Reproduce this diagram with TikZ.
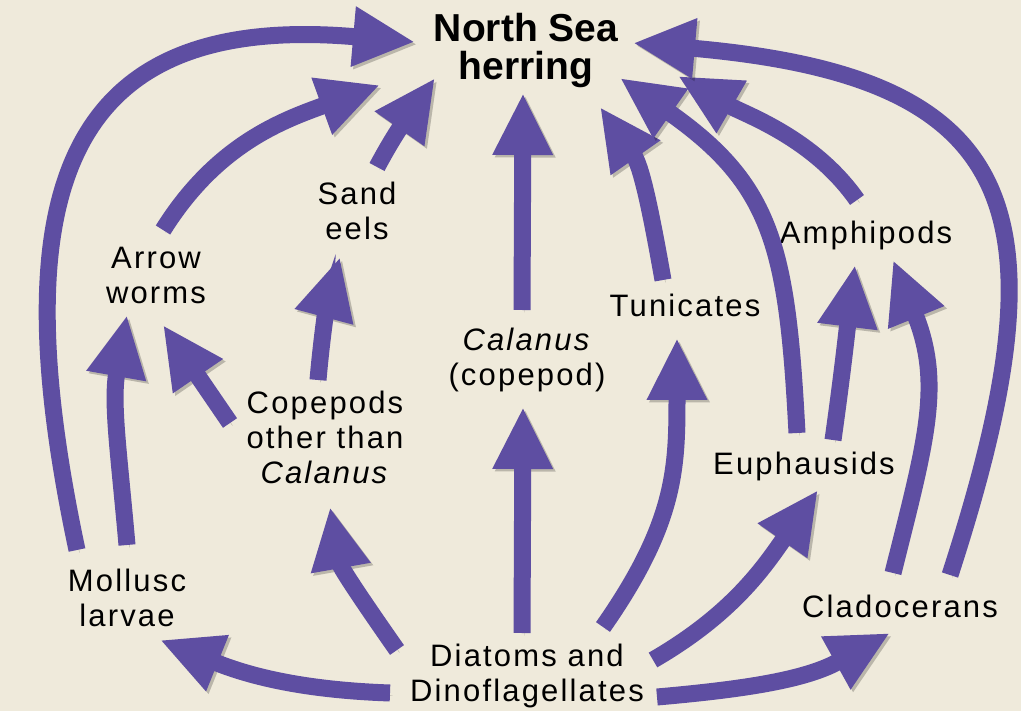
\documentclass[tikz,border=0pt]{standalone}
\usepackage{fontspec}
\setmainfont{Liberation Sans}
\newfontfamily\labelfont{Liberation Sans}[LetterSpace=7]
\usepackage{tikz}
\usetikzlibrary{arrows.meta}
\definecolor{seapurple}{RGB}{94,78,162}
\definecolor{papercream}{RGB}{239,234,219}

\begin{document}
\begin{tikzpicture}[
 x=1pt,y=1pt,
 every node/.style={inner sep=0pt,align=center,font=\labelfont\fontsize{31}{35}\selectfont},
 title/.style={font=\rmfamily\bfseries\fontsize{39}{38}\selectfont},
 feed/.style={draw=seapurple,line width=17pt,-{Triangle[length=62pt,width=56pt]},
   preaction={draw=black,opacity=0.22,transform canvas={shift={(2.5pt,-2.5pt)}}}}
]
\fill[papercream] (0,0) rectangle (1021,-711);
\useasboundingbox (0,0) rectangle (1021,-711);
% labels
\node[title] (herring) at (526,-51) {North Sea\\herring};
\node (sand) at (357,-211) {Sand\\eels};
\node (aw) at (156,-275) {Arrow\\worms};
\node (cop) at (325,-437) {Copepods\\other than\\\textit{Calanus}};
\node (cal) at (527,-360) {\textit{Calanus}\\(copepod)};
\node (tun) at (685,-305) {Tunicates};
\node (amp) at (866,-235) {Amphipods};
\node (eup) at (804,-466) {Euphausids};
\node (mol) at (127,-598) {Mollusc\\larvae};
\node (cla) at (900,-606) {Cladocerans};
\node (dia) at (527,-676) {Diatoms and\\Dinoflagellates};
% into the herring
\draw[feed] ([shift={(-50,48)}]mol.center) to[out=102,in=175,looseness=1.5] ([shift={(-111,9)}]herring.center);
\draw[feed] ([shift={(7,45)}]aw.center) to[out=58,in=200] ([shift={(-146,-34)}]herring.center);
\draw[feed] ([shift={(20,44)}]sand.center) to[out=62,in=235] ([shift={(-91,-27)}]herring.center);
\draw[feed] ([shift={(-5,50)}]cal.center) -- ([shift={(-3,-42)}]herring.center);
\draw[feed] ([shift={(-22,25)}]tun.center) to[out=100,in=-55] ([shift={(74,-56)}]herring.center);
\draw[feed] ([shift={(-7,33)}]eup.center) to[out=93,in=-35,looseness=1.2] ([shift={(94,-27)}]herring.center);
\draw[feed] ([shift={(-9,35)}]amp.center) to[out=125,in=-30,looseness=0.9] ([shift={(152,-25)}]herring.center);
\draw[feed] ([shift={(50,31)}]cla.center) to[out=72,in=-5,looseness=1.6] ([shift={(107,8)}]herring.center);
% middle links
\draw[feed] ([shift={(0,53)}]mol.center) to[out=95,in=-100] ([shift={(-29,-40)}]aw.center);
\draw[feed] ([shift={(-95,14)}]cop.center) -- ([shift={(7,-50)}]aw.center);
\draw[feed] ([shift={(-7,57)}]cop.center) to[out=85,in=-105] ([shift={(-17,-46)}]sand.center);
\draw[feed] ([shift={(29,26)}]eup.center) to[out=82,in=-97] ([shift={(-11,-30)}]amp.center);
\draw[feed] ([shift={(-7,33)}]cla.center) to[out=76,in=-68,looseness=1.1] ([shift={(27,-25)}]amp.center);
% out of the diatoms
\draw[feed] ([shift={(-137,-17)}]dia.center) to[out=178,in=-22] ([shift={(33,-42)}]mol.center);
\draw[feed] ([shift={(-130,26)}]dia.center) to[out=125,in=-80] ([shift={(5,-70)}]cop.center);
\draw[feed] ([shift={(-5,43)}]dia.center) -- ([shift={(-4,-47)}]cal.center);
\draw[feed] ([shift={(76,49)}]dia.center) to[out=55,in=-90,looseness=1.1] ([shift={(-8,-33)}]tun.center);
\draw[feed] ([shift={(126,16)}]dia.center) to[out=30,in=-125] ([shift={(14,-24)}]eup.center);
\draw[feed] ([shift={(130,-21)}]dia.center) to[out=5,in=-151] ([shift={(-10,-27)}]cla.center);
\end{tikzpicture}
\end{document}
